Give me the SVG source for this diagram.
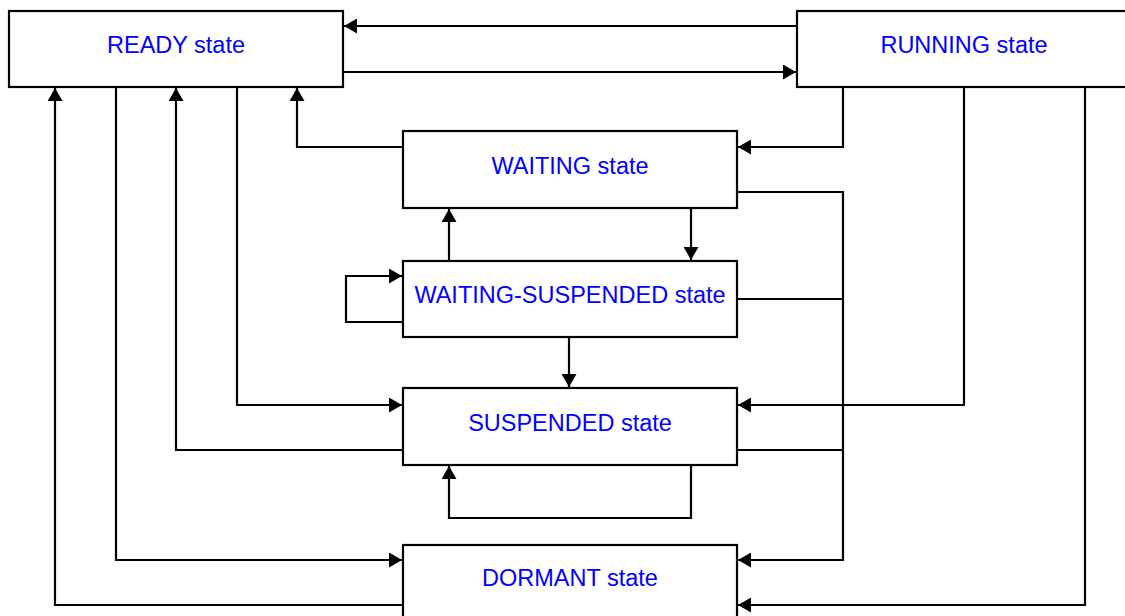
<svg xmlns="http://www.w3.org/2000/svg" width="1125" height="616" viewBox="0 0 1125 616">
<style>
.box{fill:#fff;stroke:#000;stroke-width:2.2}
.lbl{font-family:"Liberation Sans",Arial,sans-serif;font-size:23.5px;fill:#0000ff;text-anchor:middle}
.c{fill:none;stroke:#000;stroke-width:2.2}
.a{marker-end:url(#ah)}
</style>
<defs>
<marker id="ah" markerUnits="userSpaceOnUse" markerWidth="14" markerHeight="15" refX="13" refY="7.5" orient="auto" viewBox="0 0 14 15">
<path d="M0,0 L13,7.5 L0,15 z" fill="#000"/>
</marker>
</defs>
<rect width="1125" height="616" fill="#fff"/>
<g id="connectors">
<path class="c a" d="M797,26 H344"/>
<path class="c a" d="M343,72 H796"/>
<path class="c a" d="M843,87 V147 H738"/>
<path class="c a" d="M403,147 H297 V88"/>
<path class="c a" d="M691,208 V260"/>
<path class="c a" d="M449,261 V209"/>
<path class="c a" d="M403,322 H346 V276 H402"/>
<path class="c a" d="M569,337 V387"/>
<path class="c a" d="M237,87 V405 H402"/>
<path class="c a" d="M964,87 V405 H738"/>
<path class="c a" d="M403,450 H176 V88"/>
<path class="c a" d="M691,465 V518 H449 V466"/>
<path class="c a" d="M116,87 V560 H402"/>
<path class="c a" d="M737,192 H843 V560 H738"/>
<path class="c" d="M737,299 H843"/>
<path class="c" d="M737,450 H843"/>
<path class="c a" d="M1085,87 V605 H738"/>
<path class="c a" d="M403,605 H55 V88"/>
</g>
<g id="ready"><rect class="box" x="9" y="11" width="334" height="76"/><text class="lbl" x="176" y="53">READY state</text></g>
<g id="running"><rect class="box" x="797" y="11" width="334" height="76"/><text class="lbl" x="964" y="53">RUNNING state</text></g>
<g id="waiting"><rect class="box" x="403" y="131" width="334" height="77"/><text class="lbl" x="570" y="174">WAITING state</text></g>
<g id="waiting-suspended"><rect class="box" x="403" y="261" width="334" height="76"/><text class="lbl" x="570" y="303">WAITING-SUSPENDED state</text></g>
<g id="suspended"><rect class="box" x="403" y="388" width="334" height="77"/><text class="lbl" x="570" y="431">SUSPENDED state</text></g>
<g id="dormant"><rect class="box" x="403" y="545" width="334" height="76"/><text class="lbl" x="570" y="586">DORMANT state</text></g>
</svg>
